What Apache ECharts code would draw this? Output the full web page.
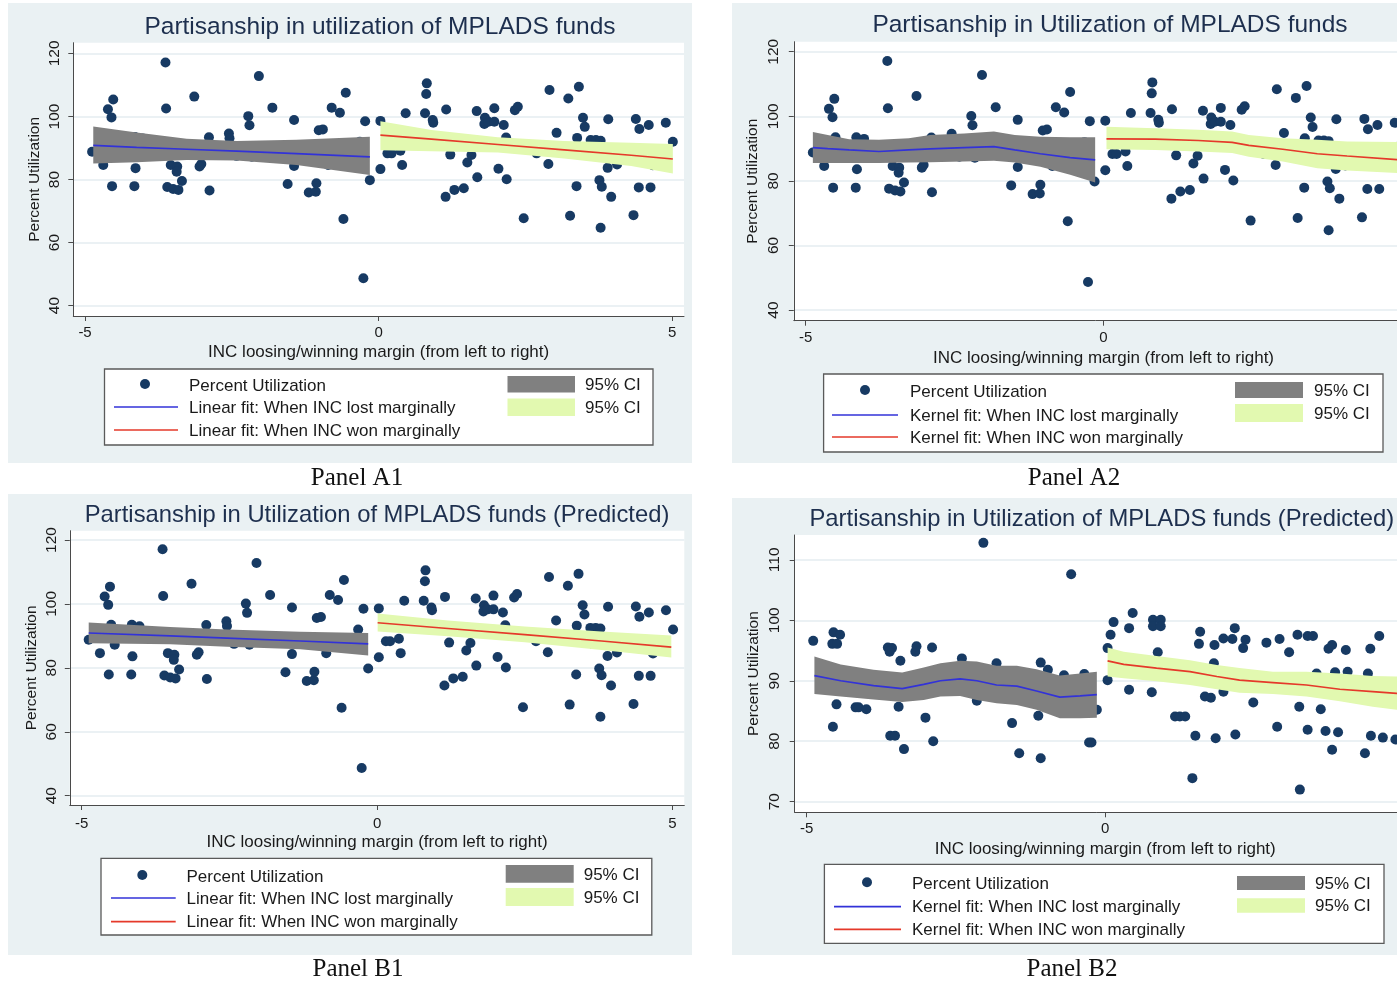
<!DOCTYPE html>
<html>
<head>
<meta charset="utf-8">
<title>Partisanship in utilization of MPLADS funds</title>
<script src="https://cdn.jsdelivr.net/npm/echarts@6/dist/echarts.min.js"></script>
<style>
  html, body { margin: 0; padding: 0; background: #fff; overflow: hidden; }
  #chart { width: 1397px; height: 983px; }
</style>
</head>
<body>
<div id="chart"></div>
<script>
// ---- Observed utilisation vs. INC margin (panels A1, A2, B1) ----
const obsMargin = [
  -4.88, -4.69, -4.61, -4.52, -4.55, -4.54, -4.50, -4.44, -4.15, -4.02,
  -4.14, -4.16, -3.63, -3.62, -3.54, -3.43, -3.44, -3.60, -3.50, -3.41,
  -3.35, -3.14, -3.02, -3.05, -2.89, -2.88, -2.55, -2.54, -2.42, -2.22,
  -2.20, -2.16, -2.04, -1.81, -1.44, -1.44, -1.55, -1.19, -1.07, -1.06,
  -1.02, -0.95, -0.86, -0.80, -0.66, -0.56, -0.60, -0.32, -0.26, -0.23,
  -0.15,
  0.03, 0.03, 0.15, 0.22, 0.37, 0.40, 0.46, 0.82, 0.81, 0.79,
  0.92, 0.93, 1.15, 1.22, 1.14, 1.29, 1.45, 1.51, 1.58, 1.67,
  1.68, 1.81, 1.80, 1.87, 1.97, 1.97, 2.13, 2.17, 2.04, 2.18,
  2.32, 2.37, 2.47, 2.69, 2.91, 2.89, 3.03, 3.23, 3.41, 3.48,
  3.51, 3.38, 3.61, 3.70, 3.78, 3.65, 3.37, 3.26, 3.76, 3.80,
  3.96, 3.78, 3.91, 3.90, 4.06, 4.38, 4.44, 4.60, 4.67, 4.43,
  4.63, 4.34, 4.89, 5.01
];
const obsUtil = [
  88.8, 84.6, 102.3, 105.4, 99.7, 77.9, 93.5, 87.2, 93.5, 93.0,
  83.6, 77.9, 117.1, 102.5, 84.6, 84.1, 82.5, 77.6, 77.0, 76.7,
  79.5, 106.3, 84.9, 84.1, 93.4, 76.5, 94.6, 93.1, 87.5, 100.1,
  97.2, 87.2, 112.8, 102.8, 98.9, 84.3, 78.6, 75.9, 76.1, 78.8,
  95.6, 95.9, 84.6, 102.8, 101.2, 107.5, 67.5, 92.0, 48.7, 98.5,
  79.8,
  98.6, 83.3, 88.3, 88.3, 89.1, 84.6, 101.0, 110.5, 107.1, 101.0,
  98.9, 98.0, 102.2, 87.9, 74.5, 76.7, 77.2, 85.4, 87.8, 101.7,
  80.7, 99.6, 97.6, 98.3, 98.3, 102.6, 97.3, 93.3, 83.4, 80.1,
  102.0, 103.1, 67.7, 88.3, 108.4, 84.9, 94.8, 105.7, 109.4, 99.6,
  96.7, 93.2, 92.5, 92.5, 92.3, 87.5, 77.9, 68.5, 79.8, 77.7,
  74.5, 64.7, 99.1, 83.7, 84.8, 99.2, 96.0, 97.3, 84.5, 77.5,
  77.5, 68.7, 98.0, 92.0
];

// ---- Predicted utilisation vs. INC margin (panel B2) ----
const predMargin = [
  -4.89, -4.55, -4.44, -4.57, -4.49, -4.50, -4.56, -4.18, -4.13, -4.00,
  -3.64, -3.57, -3.61, -3.43, -3.46, -3.60, -3.52, -3.37, -3.18, -3.16,
  -2.90, -3.01, -2.88, -2.40, -2.04, -2.15, -1.82, -1.56, -1.44, -1.08,
  -0.96, -1.12, -1.08, -0.69, -0.57, -0.35, -0.14, -0.27, -0.23,
  0.04, 0.09, 0.14, 0.04, 0.40, 0.46, 0.40, 0.78, 0.80, 0.93,
  0.80, 0.93, 0.88, 1.17, 1.25, 1.34, 1.46, 1.51, 1.59, 1.57,
  1.67, 1.77, 1.83, 1.82, 1.98, 1.85, 1.98, 2.13, 2.17, 2.31,
  2.35, 2.18, 2.48, 2.70, 2.92, 2.88, 3.08, 3.22, 3.39, 3.48,
  3.25, 3.26, 3.39, 3.54, 3.61, 3.69, 3.74, 3.80, 3.85, 3.80,
  3.90, 4.03, 4.06, 4.35, 4.40, 4.44, 4.45, 4.65, 4.59, 4.86
];
const predUtil = [
  96.6, 98.0, 97.6, 96.1, 96.1, 86.1, 82.4, 85.6, 85.6, 85.3,
  95.5, 95.4, 94.8, 93.3, 85.7, 80.9, 80.9, 78.7, 94.8, 95.7,
  95.5, 83.9, 80.0, 93.7, 112.8, 86.7, 92.9, 83.0, 78.0, 93.0,
  91.8, 84.2, 77.2, 90.9, 107.6, 91.1, 85.2, 79.8, 79.8,
  95.4, 97.6, 99.7, 90.1, 98.7, 101.2, 88.5, 88.1, 100.1, 100.1,
  99.0, 99.0, 94.7, 84.1, 84.1, 84.1, 73.9, 80.9, 98.1, 96.1,
  87.4, 87.2, 95.9, 92.9, 88.2, 80.5, 97.0, 96.9, 98.7, 95.4,
  96.8, 81.1, 86.4, 96.3, 96.9, 82.4, 94.7, 97.6, 97.4, 97.4,
  85.7, 72.0, 81.9, 91.2, 85.3, 81.7, 95.3, 95.9, 91.4, 78.6,
  81.5, 95.1, 91.5, 78.0, 91.2, 95.3, 80.9, 80.6, 97.4, 80.3
];

// ---- Panel A1: linear fits with 95% CI ----
const a1LostX   = [-4.86, -4.12, -3.27, -2.42, -1.40, -0.15];
const a1LostFit = [90.8, 90.2, 89.6, 89.0, 88.2, 87.2];
const a1LostLo  = [85.1, 85.5, 86.2, 86.0, 84.6, 81.4];
const a1LostHi  = [96.8, 94.9, 92.9, 92.2, 92.6, 93.6];
const a1WonX    = [0.03, 0.90, 2.03, 3.16, 4.30, 5.01];
const a1WonFit  = [94.1, 92.8, 91.1, 89.4, 87.7, 86.5];
const a1WonLo   = [89.3, 89.0, 88.6, 86.7, 84.3, 81.9];
const a1WonHi   = [98.5, 95.7, 93.4, 92.2, 91.7, 91.3];

// ---- Panel A2: kernel fits with 95% CI ----
const a2LostX   = [-4.88, -4.63, -4.27, -3.77, -3.27, -2.91, -2.34, -1.84, -1.49, -1.06, -0.56, -0.14];
const a2LostFit = [90.3, 90.0, 89.6, 89.1, 89.6, 89.9, 90.3, 90.6, 89.6, 88.4, 87.2, 86.5];
const a2LostLo  = [85.5, 85.5, 85.5, 85.5, 85.7, 85.8, 86.0, 86.2, 85.7, 84.4, 81.9, 79.5];
const a2LostHi  = [95.1, 94.2, 92.9, 92.7, 93.2, 94.2, 94.7, 95.3, 94.2, 93.7, 93.5, 93.5];
const a2WonX    = [0.05, 0.87, 1.59, 2.16, 2.44, 3.01, 3.59, 4.09, 5.01];
const a2WonFit  = [93.0, 92.9, 92.5, 91.9, 91.0, 89.8, 88.4, 87.7, 86.5];
const a2WonLo   = [89.8, 89.6, 89.1, 88.6, 87.5, 86.0, 83.9, 83.2, 82.4];
const a2WonHi   = [96.8, 96.3, 95.8, 95.3, 94.2, 93.2, 92.7, 92.2, 92.0];

// ---- Panel B1: linear fits with 95% CI ----
const b1LostX   = [-4.88, -3.50, -2.54, -1.30, -0.15];
const b1LostFit = [90.9, 90.0, 89.3, 88.4, 87.5];
const b1LostLo  = [87.7, 87.4, 86.6, 85.8, 83.9];
const b1LostHi  = [94.2, 92.8, 92.0, 91.3, 90.9];
const b1WonX    = [0.01, 1.20, 2.50, 3.80, 4.98];
const b1WonFit  = [94.1, 92.3, 90.4, 88.4, 86.5];
const b1WonLo   = [91.4, 89.9, 88.0, 85.6, 83.2];
const b1WonHi   = [97.0, 94.8, 92.9, 91.4, 90.1];

// ---- Panel B2: kernel fits with 95% CI ----
const b2LostX   = [-4.87, -4.43, -3.88, -3.40, -3.04, -2.76, -2.43, -2.15, -1.82, -1.48, -1.15, -0.76, -0.42, -0.14];
const b2LostFit = [90.85, 90.0, 89.2, 88.7, 89.4, 90.0, 90.3, 90.0, 89.3, 89.1, 88.3, 87.3, 87.5, 87.7];
const b2LostLo  = [87.8, 87.4, 86.9, 86.5, 86.8, 87.4, 87.5, 86.8, 86.3, 86.0, 85.2, 83.8, 83.8, 83.9];
const b2LostHi  = [94.0, 92.7, 91.8, 91.35, 92.2, 92.9, 93.3, 93.2, 92.5, 92.5, 91.9, 90.85, 91.2, 91.5];
const b2WonX    = [0.04, 0.31, 0.86, 1.42, 1.87, 2.25, 2.81, 3.37, 3.93, 4.48, 4.88, 5.0];
const b2WonFit  = [93.3, 92.7, 92.1, 91.5, 90.7, 90.1, 89.7, 89.3, 88.6, 88.2, 87.9, 87.8];
const b2WonLo   = [90.7, 90.4, 89.9, 89.3, 88.6, 88.0, 87.8, 87.4, 86.6, 85.7, 85.2, 85.1];
const b2WonHi   = [95.5, 94.8, 94.1, 93.4, 92.6, 92.1, 91.5, 91.5, 91.2, 90.8, 90.7, 90.7];

// ---- Axis ticks ----
const xTicks = [-5, 0, 5];
const yTicksWide = [40, 60, 80, 100, 120];
const yTicksPred = [70, 80, 90, 100, 110];

// ---- Text ----
const xTitle = 'INC loosing/winning margin (from left to right)';
const yTitle = 'Percent Utilization';
const scatterName = 'Percent Utilization';
const ciName = '95% CI';

// ---- Styling ----
const FONT = '"Liberation Sans", Arial, sans-serif';
const SERIF = '"Liberation Serif", "DejaVu Serif", serif';
const C = {
  panel: '#eaf1f3', grid: '#e4edf0', axis: '#4a4a4a', text: '#1a1a1a', title: '#1d2f4e',
  dot: '#173a63', lost: '#3232d8', won: '#e5392a', ciLost: '#808080', ciWon: '#e2f9b0'
};

// Panel layout (page pixels)
const panels = [
  {
    name: 'Panel A1', nameXY: [357, 478], bg: [8, 3, 684, 460],
    plot: { l: 73.3, t: 42.7, r: 684, b: 316 }, y: [36.7, 123.4], yTicks: yTicksWide,
    title: 'Partisanship in utilization of MPLADS funds', titleXY: [380, 27], titleAlign: 'center', titleSize: 24.5,
    xLabMargin: 9.5, xNameGap: 28, yLabMargin: 11, yNameGap: 31,
    fit: 'Linear fit',
    leg: { l: 104.5, t: 369, r: 653, b: 445, rows: [385, 407, 430], dot: 145, txt: 189, ln: [114, 178],
           sw: [507.5, 575], sw1: [376, 392.5], sw2: [398.5, 416], ci: 585 },
    mx: obsMargin, my: obsUtil,
    lost: [a1LostX, a1LostFit, a1LostLo, a1LostHi], won: [a1WonX, a1WonFit, a1WonLo, a1WonHi]
  },
  {
    name: 'Panel A2', nameXY: [1074, 478], bg: [732, 3, 700, 460],
    plot: { l: 793.8, t: 41.7, r: 1413.2, b: 320.7 }, y: [36.7, 123.1], yTicks: yTicksWide,
    title: 'Partisanship in Utilization of MPLADS funds', titleXY: [1110, 25], titleAlign: 'center', titleSize: 24.5,
    xLabMargin: 9.8, xNameGap: 29, yLabMargin: 12, yNameGap: 33,
    fit: 'Kernel fit',
    leg: { l: 823.6, t: 374, r: 1383, b: 452, rows: [391, 415, 437], dot: 865, txt: 910, ln: [832, 898],
           sw: [1235, 1303], sw1: [382, 398], sw2: [404, 422], ci: 1314 },
    mx: obsMargin, my: obsUtil,
    lost: [a2LostX, a2LostFit, a2LostLo, a2LostHi], won: [a2WonX, a2WonFit, a2WonLo, a2WonHi]
  },
  {
    name: 'Panel B1', nameXY: [358, 969], bg: [8, 494, 684, 461],
    plot: { l: 69.8, t: 530.7, r: 684.3, b: 805 }, y: [37.1, 122.9], yTicks: yTicksWide,
    title: 'Partisanship in Utilization of MPLADS funds (Predicted)', titleXY: [377, 515], titleAlign: 'center', titleSize: 23.8,
    xLabMargin: 11.5, xNameGap: 29.3, yLabMargin: 10.3, yNameGap: 29.8,
    fit: 'Linear fit',
    leg: { l: 101, t: 858.3, r: 651.8, b: 935, rows: [876, 898, 921.7], dot: 142.3, txt: 186.5, ln: [111, 175.7],
           sw: [505.7, 573.7], sw1: [865, 882.7], sw2: [888, 906], ci: 583.7 },
    mx: obsMargin, my: obsUtil,
    lost: [b1LostX, b1LostFit, b1LostLo, b1LostHi], won: [b1WonX, b1WonFit, b1WonLo, b1WonHi]
  },
  {
    name: 'Panel B2', nameXY: [1072, 969], bg: [732, 498, 700, 457],
    plot: { l: 794.7, t: 535, r: 1415.7, b: 812.3 }, y: [68.25, 114.1], yTicks: yTicksPred,
    title: 'Partisanship in Utilization of MPLADS funds (Predicted)', titleXY: [809.5, 519], titleAlign: 'left', titleSize: 23.8,
    xLabMargin: 9.2, xNameGap: 29, yLabMargin: 12, yNameGap: 33,
    fit: 'Kernel fit',
    leg: { l: 824.4, t: 864.3, r: 1384, b: 943.3, rows: [883.3, 906.7, 929.3], dot: 867, txt: 912, ln: [834, 901],
           sw: [1237, 1305], sw1: [876, 890], sw2: [898.3, 912.7], ci: 1315 },
    mx: predMargin, my: predUtil,
    lost: [b2LostX, b2LostFit, b2LostLo, b2LostHi], won: [b2WonX, b2WonFit, b2WonLo, b2WonHi]
  }
];

function txt(x, y, text, font, fill, align, z) {
  return {
    type: 'text', x: x, y: y, z: z || 5, silent: true,
    style: { text: text, font: font, fill: fill, textAlign: align || 'left', textVerticalAlign: 'middle',
             align: align || 'left', verticalAlign: 'middle' }
  };
}

// Shaded confidence band drawn as one polygon through the axis scales
function bandSeries(idx, xs, lo, hi, color) {
  return {
    type: 'custom', xAxisIndex: idx, yAxisIndex: idx, silent: true, clip: true, z: 3,
    data: xs.map((x, i) => [x, lo[i], hi[i]]),
    encode: { x: 0, y: [1, 2] },
    renderItem: function (params, api) {
      if (params.dataIndex !== 0) return null;
      const upper = xs.map((x, i) => api.coord([x, hi[i]]));
      const lower = xs.map((x, i) => api.coord([x, lo[i]])).reverse();
      return { type: 'polygon', shape: { points: upper.concat(lower) }, style: { fill: color } };
    }
  };
}

function fitSeries(idx, xs, ys, color) {
  return {
    type: 'line', xAxisIndex: idx, yAxisIndex: idx, silent: true, z: 4,
    data: xs.map((x, i) => [x, ys[i]]),
    showSymbol: false, symbol: 'none', smooth: false,
    lineStyle: { color: color, width: 1.7 }
  };
}

const option = { animation: false, grid: [], xAxis: [], yAxis: [], series: [], graphic: [] };

panels.forEach((p, i) => {
  const P = p.plot;
  option.grid.push({ left: P.l, top: P.t, width: P.r - P.l, height: P.b - P.t, show: false,
                     containLabel: false, outerBoundsMode: 'none' });

  option.xAxis.push({
    gridIndex: i, type: 'value', min: -5.2, max: 5.2,
    axisLine: { show: true, onZero: false, lineStyle: { color: C.axis, width: 1 } },
    axisTick: { show: true, inside: false, length: 5, customValues: xTicks, lineStyle: { color: C.axis, width: 1 } },
    axisLabel: { show: true, customValues: xTicks, margin: p.xLabMargin, fontSize: 15, fontFamily: FONT, color: C.text },
    splitLine: { show: false },
    name: xTitle, nameLocation: 'middle', nameGap: p.xNameGap, nameMoveOverlap: false,
    nameTextStyle: { fontSize: 17, fontFamily: FONT, color: C.text }
  });

  option.yAxis.push({
    gridIndex: i, type: 'value', min: p.y[0], max: p.y[1],
    axisLine: { show: true, onZero: false, lineStyle: { color: C.axis, width: 1 } },
    axisTick: { show: true, inside: false, length: 5, customValues: p.yTicks, lineStyle: { color: C.axis, width: 1 } },
    axisLabel: { show: true, customValues: p.yTicks, rotate: 90, margin: p.yLabMargin, fontSize: 15.5, fontFamily: FONT, color: C.text },
    splitLine: { show: true, lineStyle: { color: C.grid, width: 1.5 } },
    name: yTitle, nameLocation: 'middle', nameRotate: 90, nameGap: p.yNameGap, nameMoveOverlap: false,
    nameTextStyle: { fontSize: 15.5, fontFamily: FONT, color: C.text }
  });

  // points first, bands over them, fitted lines on top
  option.series.push({
    type: 'scatter', name: scatterName, xAxisIndex: i, yAxisIndex: i, silent: true, z: 2,
    data: p.mx.map((x, k) => [x, p.my[k]]),
    symbol: 'circle', symbolSize: 10, itemStyle: { color: C.dot, opacity: 1 }
  });
  option.series.push(bandSeries(i, p.lost[0], p.lost[2], p.lost[3], C.ciLost));
  option.series.push(bandSeries(i, p.won[0], p.won[2], p.won[3], C.ciWon));
  option.series.push(fitSeries(i, p.lost[0], p.lost[1], C.lost));
  option.series.push(fitSeries(i, p.won[0], p.won[1], C.won));

  // panel background and white plot region
  option.graphic.push({ type: 'rect', silent: true, z: -20,
    shape: { x: p.bg[0], y: p.bg[1], width: p.bg[2], height: p.bg[3] }, style: { fill: C.panel } });
  option.graphic.push({ type: 'rect', silent: true, z: -19,
    shape: { x: P.l, y: P.t, width: P.r - P.l, height: P.b - P.t }, style: { fill: '#ffffff' } });

  // title and caption
  option.graphic.push(txt(p.titleXY[0], p.titleXY[1], p.title, p.titleSize + 'px ' + FONT, C.title, p.titleAlign));
  option.graphic.push(txt(p.nameXY[0], p.nameXY[1], p.name, '25px ' + SERIF, '#111', 'center'));

  // legend box
  const L = p.leg;
  option.graphic.push({ type: 'rect', silent: true, z: 6,
    shape: { x: L.l, y: L.t, width: L.r - L.l, height: L.b - L.t },
    style: { fill: '#ffffff', stroke: '#5a5a5a', lineWidth: 1.3 } });
  option.graphic.push({ type: 'circle', silent: true, z: 7,
    shape: { cx: L.dot, cy: L.rows[0] - 1, r: 5 }, style: { fill: C.dot } });
  option.graphic.push({ type: 'line', silent: true, z: 7,
    shape: { x1: L.ln[0], y1: L.rows[1], x2: L.ln[1], y2: L.rows[1] }, style: { stroke: C.lost, lineWidth: 1.7 } });
  option.graphic.push({ type: 'line', silent: true, z: 7,
    shape: { x1: L.ln[0], y1: L.rows[2], x2: L.ln[1], y2: L.rows[2] }, style: { stroke: C.won, lineWidth: 1.7 } });
  option.graphic.push({ type: 'rect', silent: true, z: 7,
    shape: { x: L.sw[0], y: L.sw1[0], width: L.sw[1] - L.sw[0], height: L.sw1[1] - L.sw1[0] }, style: { fill: C.ciLost } });
  option.graphic.push({ type: 'rect', silent: true, z: 7,
    shape: { x: L.sw[0], y: L.sw2[0], width: L.sw[1] - L.sw[0], height: L.sw2[1] - L.sw2[0] }, style: { fill: C.ciWon } });
  const lf = '17px ' + FONT;
  option.graphic.push(txt(L.txt, L.rows[0] + 1, scatterName, lf, C.text, 'left', 8));
  option.graphic.push(txt(L.txt, L.rows[1] + 1, p.fit + ': When INC lost marginally', lf, C.text, 'left', 8));
  option.graphic.push(txt(L.txt, L.rows[2] + 1, p.fit + ': When INC won marginally', lf, C.text, 'left', 8));
  option.graphic.push(txt(L.ci, (L.sw1[0] + L.sw1[1]) / 2 + 1, ciName, lf, C.text, 'left', 8));
  option.graphic.push(txt(L.ci, (L.sw2[0] + L.sw2[1]) / 2 + 1, ciName, lf, C.text, 'left', 8));
});

const chart = echarts.init(document.getElementById('chart'), null, { renderer: 'canvas' });
chart.setOption(option);
</script>
</body>
</html>
